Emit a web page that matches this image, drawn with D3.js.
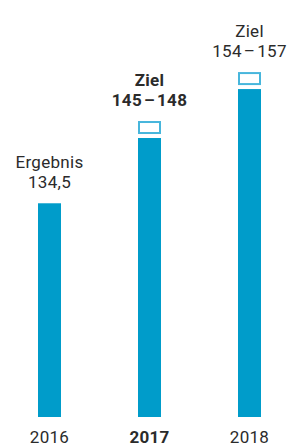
<!DOCTYPE html>
<html>
<head>
<meta charset="utf-8">
<script src="https://cdn.jsdelivr.net/npm/d3@7"></script>
<style>
    html, body { margin: 0; padding: 0; background: #fff; }
    svg { display: block; }
    text { font-family: Roboto, 'Open Sans', sans-serif; fill: #2b2b2b; letter-spacing: 0.3px; }
</style>
</head>
<body>
<svg id="chart"></svg>
<script>
// data
let years = ['2016', '2017', '2018']
let bar_values = [134.5, 146.5, 155.5]     // bar heights as drawn
let has_target = [false, true, true]       // outlined box above the bar
let label_top = ['Ergebnis', 'Ziel', 'Ziel']
let label_bottom = ['134,5', '145\u200a\u2013\u200a148', '154\u200a\u2013\u200a157']
let bold_year = '2017'

let width = 287
let height = 446

let bar_color = '#009cca'
let box_color = '#47b6dc'

let svg = d3.select('#chart')
    .attr('width', width)
    .attr('height', height)

let x = d3.scaleBand()
    .domain(years)
    .range([-0.5, 299.5])
    .paddingInner(0.77)
    .paddingOuter(0.385)

let y = d3.scaleLinear()
    .domain([95.2, 160])
    .range([417, 64.6])

let rows = years.map((yr, i) => ({
    year: yr,
    value: bar_values[i],
    target: has_target[i],
    top: label_top[i],
    bottom: label_bottom[i]
}))

let box_h = 13
let box_gap = 4

svg.selectAll('rect.bar').data(rows).enter()
    .append('rect')
    .classed('bar', true)
    .attr('x', d => x(d.year))
    .attr('y', d => y(d.value))
    .attr('width', x.bandwidth())
    .attr('height', d => y.range()[0] - y(d.value))
    .style('fill', bar_color)

svg.selectAll('rect.box').data(rows.filter(d => d.target)).enter()
    .append('rect')
    .classed('box', true)
    .attr('x', d => x(d.year) + 1)
    .attr('y', d => y(d.value) - box_gap - box_h + 1)
    .attr('width', x.bandwidth() - 2)
    .attr('height', box_h - 2)
    .style('fill', 'none')
    .style('stroke', box_color)
    .style('stroke-width', 2)

// marker top: box top if there is a target, else bar top
let mark_top = d => d.target ? y(d.value) - box_gap - box_h : y(d.value)

let labels = svg.selectAll('g.label').data(rows).enter()
    .append('g')
    .classed('label', true)
    .attr('transform', d => `translate(${x(d.year) + x.bandwidth() / 2},${mark_top(d) - 15})`)
    .style('font-weight', d => d.year === bold_year ? 700 : 400)

labels.append('text')
    .attr('text-anchor', 'middle')
    .attr('y', -20.5)
    .style('font-size', '17px')
    .text(d => d.top)

labels.append('text')
    .attr('text-anchor', 'middle')
    .style('font-size', '17px')
    .text(d => d.bottom)

svg.selectAll('text.year').data(years).enter()
    .append('text')
    .classed('year', true)
    .attr('x', d => x(d) + x.bandwidth() / 2)
    .attr('y', 443)
    .attr('text-anchor', 'middle')
    .style('font-size', '17px')
    .style('font-weight', d => d === bold_year ? 700 : 400)
    .text(d => d)
</script>
</body>
</html>
